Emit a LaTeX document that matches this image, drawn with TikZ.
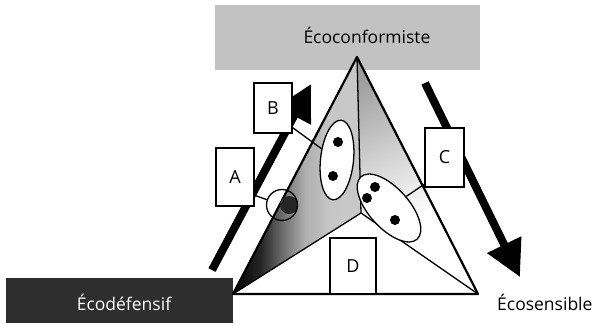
\documentclass[tikz,border=0pt]{standalone}
\usepackage{fontspec}
\setmainfont{Open Sans}
\usetikzlibrary{positioning,arrows.meta,shapes.geometric}

\pgfdeclarehorizontalshading{leftface}{100bp}{color(0bp)=(black);
  color(25bp)=(black); color(36bp)=(black!85); color(45bp)=(black!55);
  color(53bp)=(black!32); color(63bp)=(black!22); color(100bp)=(black!20)}

\begin{document}
\begin{tikzpicture}[
  x=1pt, y=-1pt,
  bx/.style={draw, fill=white, line width=1.3pt, inner sep=0pt,
             font=\fontsize{18}{20}\selectfont},
  el/.style={ellipse, draw, fill=white, line width=1.3pt, inner sep=0pt},
  dt/.style={circle, fill=black, inner sep=0pt, minimum size=10pt},
  arr/.style={line width=8pt, -{Triangle[length=36pt, width=36pt]}},
  ln/.style={line width=1.3pt},
  lb/.style={font=\fontsize{17.5}{20}\selectfont, inner sep=0pt}]

  \useasboundingbox (0,0) rectangle (595,324);

  % pole labels
  \fill[black!24] (215,5) rectangle (480,70);
  \node[lb] (conf) at (367,35) {Écoconformiste};
  \fill[black!82] (6,278) rectangle (233,323);
  \node[lb, text=white] (def) at (124,302) {Écodéfensif};
  \node[lb, anchor=west] (sens) at (497,302) {Écosensible};

  % triangle
  \coordinate (t) at (357,57);
  \coordinate (l) at (233,294);
  \coordinate (r) at (478,294);
  \coordinate (m) at (361,213);

  \shade[shading=leftface] (l) -- (t) -- (m) -- cycle;
  \begin{scope}
    \clip (t) -- (r) -- (m) -- cycle;
    \shade[top color=black!38, bottom color=white, shading angle=25]
      (355,57) rectangle (480,215);
  \end{scope}
  \draw[ln] (t) -- (m) (l) -- (m) -- (r);
  \draw[line width=2.2pt, line join=round] (t) -- (l) -- (r) -- cycle;

  % thick arrows
  \coordinate (up0) at (212,270);
  \coordinate (up1) at (311,84);
  \coordinate (dn0) at (425,83);
  \coordinate (dn1) at (520,277);
  \draw[arr] (up0) -- (up1);
  \draw[arr] (dn0) -- (dn1);

  % boxes
  \node[bx, minimum width=38pt, minimum height=58pt] (A) at (235,177) {A};
  \node[bx, minimum width=38pt, minimum height=50pt] (B) at (273,108) {B};
  \node[bx, minimum width=39pt, minimum height=59pt] (C) at (444.5,157.5) {C};
  \node[bx, minimum width=46pt, minimum height=56pt] (D) at (353,266) {D};

  % groups
  \node[el, minimum width=33pt, minimum height=80pt, rotate=-6] (eB) at (337,160) {};
  \node[el, minimum width=84pt, minimum height=40pt, rotate=-48] (eC) at (389,208) {};
  \node[dt, minimum size=18pt, fill=black!85] (a1) at (289,205) {};
  \node[circle, draw, ln, minimum size=31pt, inner sep=0pt] (cA) at (282,205) {};

  \node[dt] (b1) at (338,142) {};
  \node[dt] (b2) at (333,176) {};
  \node[dt] (c1) at (375,187) {};
  \node[dt] (c2) at (367,198) {};
  \node[dt] (c3) at (395,220) {};

  \draw[ln] (A.-43) -- (cA);
  \draw[ln] (B.-45) -- (eB);
  \draw[ln] (C.-127) -- (eC);
\end{tikzpicture}
\end{document}
